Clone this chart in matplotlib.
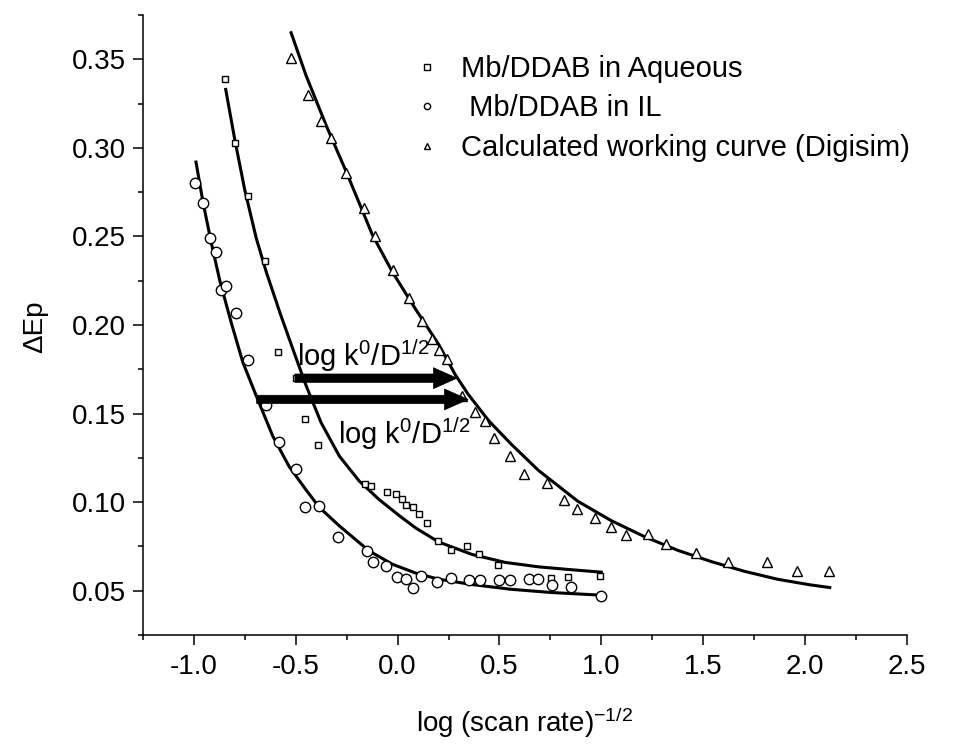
import matplotlib
matplotlib.use("Agg")
import matplotlib.pyplot as plt
from matplotlib.lines import Line2D
from matplotlib.ticker import MultipleLocator, FormatStrFormatter

plt.rcParams['font.family'] = ['Liberation Sans', 'DejaVu Sans']
plt.rcParams['mathtext.fontset'] = 'custom'
plt.rcParams['mathtext.rm'] = 'Liberation Sans'
plt.rcParams['mathtext.it'] = 'Liberation Sans'
plt.rcParams['mathtext.default'] = 'regular'

# Mb/DDAB in aqueous (squares)
aq_x = [-0.849, -0.80, -0.735, -0.653, -0.588, -0.50, -0.457, -0.393, -0.16, -0.13,
        -0.05, -0.006, 0.023, 0.043, 0.075, 0.105, 0.145, 0.199, 0.26, 0.34,
        0.401, 0.492, 0.755, 0.838, 0.993]
aq_y = [0.339, 0.303, 0.273, 0.236, 0.185, 0.170, 0.147, 0.132, 0.110, 0.109,
        0.106, 0.1044, 0.1016, 0.0982, 0.097, 0.0931, 0.0885, 0.078, 0.073, 0.075,
        0.071, 0.0644, 0.057, 0.0575, 0.0584]
aq_fit_x = [-0.844, -0.80, -0.75, -0.694, -0.645, -0.578, -0.513, -0.45, -0.376, -0.286,
            -0.189, -0.091, 0.007, 0.088, 0.202, 0.365, 0.528, 0.691, 0.838, 1.0]
aq_fit_y = [0.333, 0.305, 0.276, 0.249, 0.230, 0.207, 0.186, 0.166, 0.145, 0.126,
            0.112, 0.1015, 0.0925, 0.0855, 0.0775, 0.0705, 0.066, 0.0635, 0.062, 0.0605]

# Mb/DDAB in IL (circles)
il_x = [-0.996, -0.955, -0.922, -0.893, -0.865, -0.844, -0.792, -0.735, -0.645, -0.583,
        -0.498, -0.453, -0.384, -0.295, -0.148, -0.12, -0.055, -0.001, 0.04, 0.075,
        0.113, 0.194, 0.264, 0.349, 0.406, 0.496, 0.553, 0.646, 0.691, 0.76,
        0.851, 1.0]
il_y = [0.280, 0.269, 0.249, 0.241, 0.220, 0.222, 0.207, 0.180, 0.155, 0.134,
        0.119, 0.0975, 0.0978, 0.0806, 0.0725, 0.066, 0.0637, 0.058, 0.0569, 0.0518,
        0.0584, 0.0547, 0.0574, 0.0561, 0.0561, 0.0561, 0.0561, 0.0569, 0.0565, 0.053,
        0.052, 0.047]
il_fit_x = [-0.99, -0.955, -0.914, -0.873, -0.816, -0.76, -0.694, -0.613, -0.532, -0.45,
            -0.384, -0.286, -0.14, -0.026, 0.088, 0.202, 0.365, 0.559, 0.755, 1.0]
il_fit_y = [0.292, 0.269, 0.246, 0.225, 0.201, 0.179, 0.160, 0.1373, 0.120, 0.107,
            0.097, 0.0866, 0.0725, 0.065, 0.060, 0.0565, 0.0535, 0.0508, 0.049, 0.0475]

# calculated working curve (triangles)
sim_x = [-0.523, -0.442, -0.376, -0.327, -0.254, -0.164, -0.11, -0.023, 0.056, 0.121,
         0.17, 0.202, 0.243, 0.316, 0.382, 0.43, 0.471, 0.553, 0.623, 0.732,
         0.818, 0.883, 0.971, 1.05, 1.123, 1.229, 1.319, 1.465, 1.62, 1.816,
         1.963, 2.117]
sim_y = [0.351, 0.330, 0.315, 0.3056, 0.2859, 0.266, 0.250, 0.231, 0.215, 0.202,
         0.192, 0.186, 0.181, 0.160, 0.151, 0.146, 0.136, 0.126, 0.116, 0.1106,
         0.1012, 0.096, 0.0913, 0.0857, 0.0813, 0.0819, 0.0762, 0.0715, 0.0662, 0.0662,
         0.0612, 0.0612]
sim_fit_x = [-0.523, -0.45, -0.352, -0.254, -0.124, -0.026, 0.088, 0.202, 0.283, 0.346,
             0.447, 0.56, 0.691, 0.885, 1.05, 1.213, 1.376, 1.539, 1.702, 1.865,
             2.027, 2.122]
sim_fit_y = [0.365, 0.341, 0.313, 0.287, 0.251, 0.230, 0.209, 0.189, 0.172, 0.161,
             0.146, 0.1325, 0.118, 0.1005, 0.0895, 0.0805, 0.0728, 0.0665, 0.061, 0.0565,
             0.0533, 0.0518]

labels = ['Mb/DDAB in Aqueous', ' Mb/DDAB in IL', 'Calculated working curve (Digisim)']

# arrows: (start x, end x, y)
arrows = [(-0.504, 0.292, 0.170), (-0.692, 0.346, 0.158)]
arrow_text = r'log k$^0$/D$^{1/2}$'

fig = plt.figure(figsize=(9.58, 7.47), dpi=100)
ax = fig.add_axes([0.1493, 0.1499, 0.7972, 0.8300])

ax.plot(aq_fit_x, aq_fit_y, color='black', lw=2.2, zorder=2)
ax.plot(il_fit_x, il_fit_y, color='black', lw=2.2, zorder=2)
ax.plot(sim_fit_x, sim_fit_y, color='black', lw=2.2, zorder=2)

ax.plot(aq_x, aq_y, ls='none', marker='s', ms=5, mfc='white', mec='black', mew=1.0, zorder=3)
ax.plot(il_x, il_y, ls='none', marker='o', ms=7.5, mfc='white', mec='black', mew=1.0, zorder=3)
ax.plot(sim_x, sim_y, ls='none', marker='^', ms=6.5, mfc='white', mec='black', mew=1.0, zorder=3)

for x0, x1, y in arrows:
    ax.annotate('', xy=(x1, y), xytext=(x0, y),
                arrowprops=dict(arrowstyle='simple,head_length=0.85,head_width=0.75,tail_width=0.3',
                                fc='black', ec='black', lw=0.5, shrinkA=0, shrinkB=0,
                                mutation_scale=20), zorder=4)

ax.text(-0.495, 0.177, arrow_text, fontsize=21, ha='left', va='baseline')
ax.text(-0.291, 0.133, arrow_text, fontsize=21, ha='left', va='baseline')

ax.set_xlim(-1.25, 2.5)
ax.set_ylim(0.025, 0.375)
ax.xaxis.set_major_locator(MultipleLocator(0.5))
ax.xaxis.set_minor_locator(MultipleLocator(0.25))
ax.yaxis.set_major_locator(MultipleLocator(0.05))
ax.yaxis.set_minor_locator(MultipleLocator(0.025))
ax.xaxis.set_major_formatter(FormatStrFormatter('%.1f'))
ax.yaxis.set_major_formatter(FormatStrFormatter('%.2f'))
ax.spines['top'].set_visible(False)
ax.spines['right'].set_visible(False)
for s in ('left', 'bottom'):
    ax.spines[s].set_linewidth(1.1)
ax.tick_params(which='major', length=7, width=1.1, labelsize=20)
ax.tick_params(which='minor', length=3.5, width=1.1)
ax.tick_params(axis='y', pad=5)
ax.tick_params(axis='x', pad=7)

ax.set_xlabel('log (scan rate)$^{-1/2}$', fontsize=20)
ax.set_ylabel('ΔEp', fontsize=20)
ax.xaxis.set_label_coords(0.50, -0.113)
ax.yaxis.set_label_coords(-0.124, 0.497)

handles = [Line2D([], [], ls='none', marker='s', ms=4.5, mfc='white', mec='black', mew=1.0),
           Line2D([], [], ls='none', marker='o', ms=4.5, mfc='white', mec='black', mew=1.0),
           Line2D([], [], ls='none', marker='^', ms=4.5, mfc='white', mec='black', mew=1.0)]
ax.legend(handles, labels, loc='upper left', bbox_to_anchor=(412.4 / 958, 1 - 55 / 747),
          bbox_transform=fig.transFigure, frameon=False, fontsize=21, borderpad=0,
          borderaxespad=0, handlelength=1.0, handletextpad=0.66, labelspacing=0.39)

fig.savefig('out.png', dpi=100)
